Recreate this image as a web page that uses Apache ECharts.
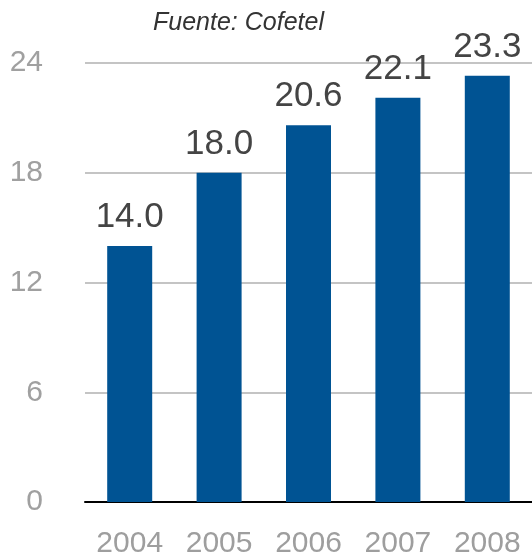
<!DOCTYPE html>
<html>
<head>
<meta charset="utf-8">
<script src="https://cdn.jsdelivr.net/npm/echarts@6/dist/echarts.min.js"></script>
<style>
html,body{margin:0;padding:0;background:#fff;}
#chart{width:532px;height:559px;}
</style>
</head>
<body>
<div id="chart"></div>
<script>
var categories = ['2004', '2005', '2006', '2007', '2008'];
var values = [14.0, 18.0, 20.6, 22.1, 23.3];
var yTicks = [0, 6, 12, 18, 24];
var titleText = 'Fuente: Cofetel';

var chart = echarts.init(document.getElementById('chart'));
chart.setOption({
  animation: false,
  backgroundColor: '#ffffff',
  textStyle: { fontFamily: 'Liberation Sans, Arial, sans-serif' },
  title: {
    text: titleText,
    left: 148,
    top: 6,
    textStyle: { fontSize: 25, fontStyle: 'italic', fontWeight: 'normal', color: '#333333', fontFamily: 'Liberation Sans, Arial, sans-serif' }
  },
  grid: { left: 85, right: 0, top: 63, bottom: 57 },
  xAxis: {
    type: 'category',
    data: categories,
    axisLine: { show: true, lineStyle: { color: '#000000', width: 2 } },
    axisTick: { show: false },
    axisLabel: { color: '#9e9e9e', fontSize: 30, margin: 27 }
  },
  yAxis: {
    type: 'value',
    min: yTicks[0],
    max: yTicks[yTicks.length - 1],
    interval: 6,
    axisLine: { show: false },
    axisTick: { show: false },
    axisLabel: { color: '#a0a0a0', fontSize: 30, margin: 42 },
    splitLine: { lineStyle: { color: '#c4c4c4', width: 2 } }
  },
  series: [{
    type: 'bar',
    data: values,
    barWidth: 45,
    itemStyle: { color: '#005393' },
    label: {
      show: true,
      position: 'top',
      distance: 11,
      color: '#444444',
      fontSize: 35,
      formatter: function (p) { return p.value.toFixed(1); }
    }
  }]
});
</script>
</body>
</html>
